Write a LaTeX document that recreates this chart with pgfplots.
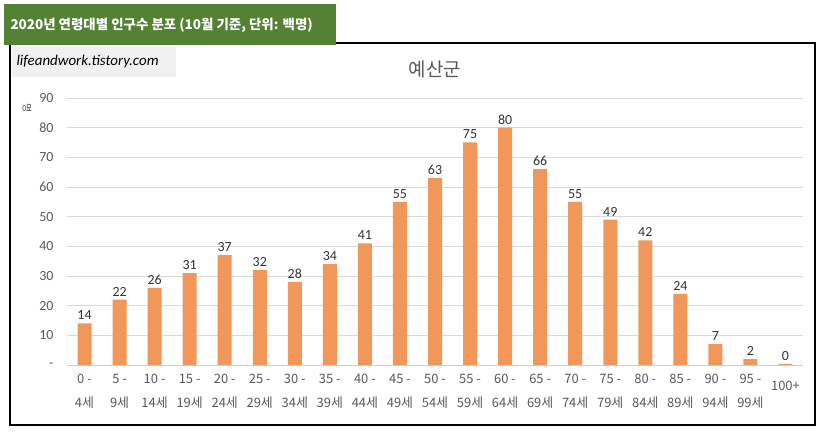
\documentclass[border=0pt]{standalone}
\usepackage{pgfplots}
\pgfplotsset{compat=1.18}
\usepackage{fontspec}
\setmainfont{Carlito}
\newfontfamily\kr{Noto Sans CJK KR}
\definecolor{bar}{RGB}{241,151,89}
\definecolor{grn}{RGB}{84,130,53}
\definecolor{txt}{RGB}{89,89,89}
\begin{document}
\begin{tikzpicture}[x=1bp,y=1bp]
\fill[white] (0,0) rectangle (821,435);
\draw[black,line width=1.2bp] (10,10) rectangle (815,392);
\fill[grn] (4,390) rectangle (336,431);
\node[white,font=\kr\bfseries\fontsize{13.5}{16}\selectfont,anchor=west] at (7,410) {2020년 연령대별 인구수 분포 (10월 기준, 단위: 백명)};
\fill[black!6] (12,358) rectangle (176,388);
\node[anchor=west,font=\itshape\fontsize{15}{17}\selectfont] at (13,373) {lifeandwork.tistory.com};
\node[txt,font=\kr\fontsize{19}{21}\selectfont] at (435,366) {예산군};
\node[txt,rotate=-90,font=\kr\fontsize{10}{11}\selectfont] at (27,327) {명};
\begin{axis}[at={(67bp,70bp)},anchor=south west,scale only axis,width=736bp,height=267bp,
 ymin=0,ymax=90,ytick={0,10,...,90},yticklabels={-,10,20,30,40,50,60,70,80,90},
 xmin=-0.5,xmax=20.5,xtick={0,...,20},
 xticklabels={0 -\\4세,5 -\\9세,10 -\\14세,15 -\\19세,20 -\\24세,25 -\\29세,30 -\\34세,35 -\\39세,40 -\\44세,45 -\\49세,50 -\\54세,55 -\\59세,60 -\\64세,65 -\\69세,70 -\\74세,75 -\\79세,80 -\\84세,85 -\\89세,90 -\\94세,95 -\\99세,{}\\[-8bp]100+},
 xticklabel style={align=center,font=\kr\fontsize{13}{24}\selectfont,text=txt,yshift=-6bp},
 yticklabel style={font=\fontsize{14}{16}\selectfont,text=txt,xshift=-10bp},
 /pgf/number format/assume math mode=true,
 axis x line*=bottom, axis y line*=left, y axis line style={draw=none}, x axis line style={black!20},
 major tick length=0pt, ymajorgrids, grid style={black!15},
 ybar, bar width=14bp, point meta=explicit symbolic,
 nodes near coords, nodes near coords style={font=\fontsize{14}{16}\selectfont,text=black!80},
 clip=false]
\addplot[fill=bar,draw=none] coordinates {(0,14)[14](1,22)[22](2,26)[26](3,31)[31](4,37)[37](5,32)[32](6,28)[28](7,34)[34](8,41)[41](9,55)[55](10,63)[63](11,75)[75](12,80)[80](13,66)[66](14,55)[55](15,49)[49](16,42)[42](17,24)[24](18,7)[7](19,2)[2](20,0.4)[0]};
\end{axis}
\end{tikzpicture}
\end{document}
